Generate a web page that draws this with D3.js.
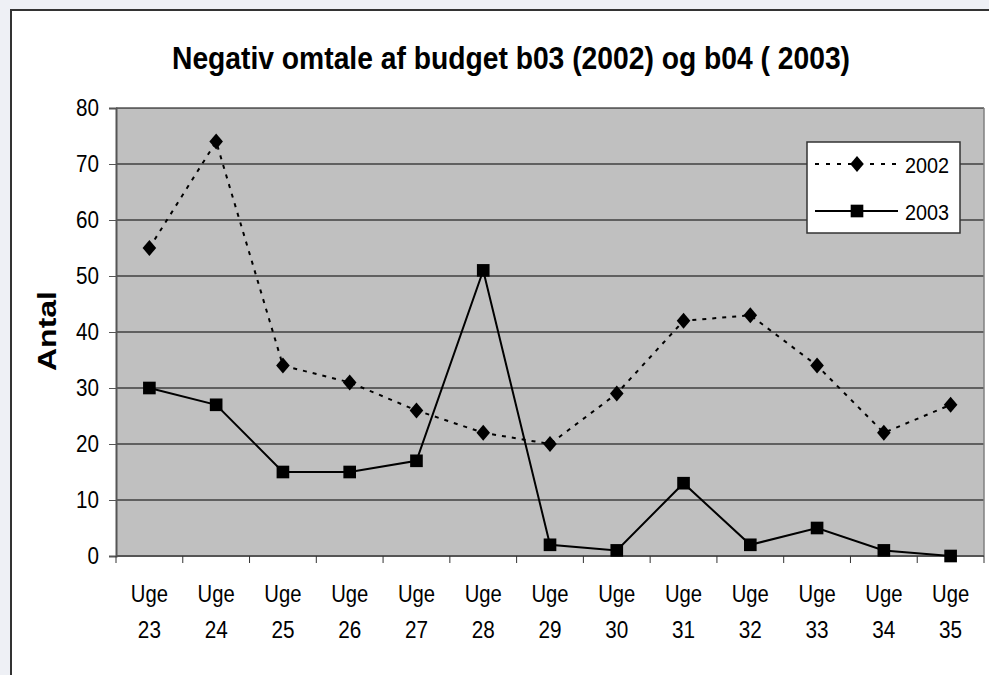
<!DOCTYPE html>
<html>
<head>
<meta charset="utf-8">
<script src="https://cdn.jsdelivr.net/npm/d3@7"></script>
<style>
  html, body { margin: 0; padding: 0; background: #eef0f5; }
  svg { display: block; font-family: "Liberation Sans", Arial, sans-serif; }
</style>
</head>
<body>
<svg id="chart" width="989" height="675"></svg>
<script>
// data
const weeks = ['23', '24', '25', '26', '27', '28', '29', '30', '31', '32', '33', '34', '35'];
const values2002 = [55, 74, 34, 31, 26, 22, 20, 29, 42, 43, 34, 22, 27];
const values2003 = [30, 27, 15, 15, 17, 51, 2, 1, 13, 2, 5, 1, 0];
const yTicks = [0, 10, 20, 30, 40, 50, 60, 70, 80];
const seriesNames = ['2002', '2003'];

const svg = d3.select('#chart');
const margin = { top: 108, left: 116, right: 5, bottom: 119 };
const width = 989 - margin.left - margin.right,
  height = 675 - margin.top - margin.bottom;

// squeeze text horizontally, the reference font is narrow
function condense(sel, f) {
  sel.each(function () {
    const w = this.getComputedTextLength();
    d3.select(this).attr('textLength', w * f).attr('lengthAdjust', 'spacingAndGlyphs');
  });
}

// white chart area
svg.append('rect')
  .attr('x', 11).attr('y', 10)
  .attr('width', 1000).attr('height', 700)
  .attr('fill', '#fff')
  .attr('stroke', '#333').attr('stroke-width', 2);

svg.append('text')
  .attr('x', 511).attr('y', 69)
  .attr('text-anchor', 'middle')
  .attr('textLength', 678).attr('lengthAdjust', 'spacingAndGlyphs')
  .style('font-size', '32px').style('font-weight', 'bold')
  .text('Negativ omtale af budget b03 (2002) og b04 ( 2003)');

svg.append('text')
  .attr('transform', `translate(56, 331) rotate(-90)`)
  .attr('text-anchor', 'middle')
  .attr('textLength', 80).attr('lengthAdjust', 'spacingAndGlyphs')
  .style('font-size', '25px').style('font-weight', 'bold')
  .text('Antal');

const g = svg.append('g').attr('transform', `translate(${margin.left}, ${margin.top})`);

const x = d3.scaleBand().domain(weeks).range([0, width]);
const y = d3.scaleLinear().domain([0, 80]).range([height, 0]);

g.append('rect')
  .attr('width', width).attr('height', height)
  .attr('fill', '#c0c0c0');

// gridlines
g.selectAll('.grid')
  .data(yTicks.filter((t) => t > 0))
  .enter()
  .append('line')
  .attr('x1', 0).attr('x2', width)
  .attr('y1', (d) => y(d)).attr('y2', (d) => y(d))
  .attr('stroke', '#000').attr('stroke-width', 1);

g.append('line')
  .attr('x1', width).attr('x2', width)
  .attr('y1', 0).attr('y2', height)
  .attr('stroke', '#808080').attr('stroke-width', 1.5);

// y axis
const yAxis = g.append('g')
  .call(d3.axisLeft(y).tickValues(yTicks).tickSize(7).tickPadding(10));
yAxis.select('.domain').attr('stroke', '#555').attr('stroke-width', 2);
yAxis.selectAll('.tick line').attr('stroke', '#555');
yAxis.selectAll('text')
  .attr('fill', '#000')
  .style('font-size', '24px')
  .style('font-family', '"Liberation Sans", Arial, sans-serif')
  .call(condense, 0.86);

// x axis: ticks at category boundaries
const xAxis = g.append('g').attr('transform', `translate(0, ${height})`);
xAxis.append('line')
  .attr('x1', 0).attr('x2', width)
  .attr('stroke', '#555').attr('stroke-width', 2);
xAxis.selectAll('.bound')
  .data(weeks.concat(['end']))
  .enter()
  .append('line')
  .attr('x1', (d, i) => i * x.bandwidth()).attr('x2', (d, i) => i * x.bandwidth())
  .attr('y1', 0).attr('y2', 7)
  .attr('stroke', '#333');
const lbl = xAxis.selectAll('.lbl')
  .data(weeks)
  .enter()
  .append('text')
  .attr('text-anchor', 'middle')
  .attr('transform', (d) => `translate(${x(d) + x.bandwidth() / 2}, 0)`)
  .style('font-size', '23px');
lbl.append('tspan').attr('x', 0).attr('y', 46).text('Uge').call(condense, 0.88);
lbl.append('tspan').attr('x', 0).attr('y', 82).text((d) => d).call(condense, 0.9);

const line = d3.line()
  .x((d, i) => x(weeks[i]) + x.bandwidth() / 2)
  .y((d) => y(d));

g.append('path')
  .datum(values2002)
  .attr('d', line)
  .attr('fill', 'none')
  .attr('stroke', '#000').attr('stroke-width', 2)
  .attr('stroke-dasharray', '4,6');

g.append('path')
  .datum(values2003)
  .attr('d', line)
  .attr('fill', 'none')
  .attr('stroke', '#000').attr('stroke-width', 2);

// Excel style diamond, a little taller than wide
const excelDiamond = {
  draw(ctx, size) {
    const h = Math.sqrt(size) / 2, w = h * 0.85;
    ctx.moveTo(0, -h);
    ctx.lineTo(w, 0);
    ctx.lineTo(0, h);
    ctx.lineTo(-w, 0);
    ctx.closePath();
  }
};
const diamond = d3.symbol().type(excelDiamond).size(256);
const square = d3.symbol().type(d3.symbolSquare).size(160);

g.selectAll('.m2002')
  .data(values2002)
  .enter()
  .append('path')
  .attr('d', diamond)
  .attr('transform', (d, i) => `translate(${x(weeks[i]) + x.bandwidth() / 2}, ${y(d)})`)
  .attr('fill', '#000');

g.selectAll('.m2003')
  .data(values2003)
  .enter()
  .append('path')
  .attr('d', square)
  .attr('transform', (d, i) => `translate(${x(weeks[i]) + x.bandwidth() / 2}, ${y(d)})`)
  .attr('fill', '#000');

// legend
const legend = svg.append('g').attr('transform', 'translate(807, 142)');
legend.append('rect')
  .attr('width', 153).attr('height', 91)
  .attr('fill', '#fff')
  .attr('stroke', '#333').attr('stroke-width', 1.5);
seriesNames.forEach((name, i) => {
  const yy = 22 + i * 47;
  legend.append('line')
    .attr('x1', 8).attr('x2', 91)
    .attr('y1', yy).attr('y2', yy)
    .attr('stroke', '#000').attr('stroke-width', 2)
    .attr('stroke-dasharray', i === 0 ? '4,7' : null);
  legend.append('path')
    .attr('d', i === 0 ? diamond : square)
    .attr('transform', `translate(50, ${yy})`)
    .attr('fill', '#000');
  legend.append('text')
    .attr('x', 98).attr('y', yy + 9)
    .style('font-size', '22px')
    .text(name)
    .call(condense, 0.9);
});
</script>
</body>
</html>
